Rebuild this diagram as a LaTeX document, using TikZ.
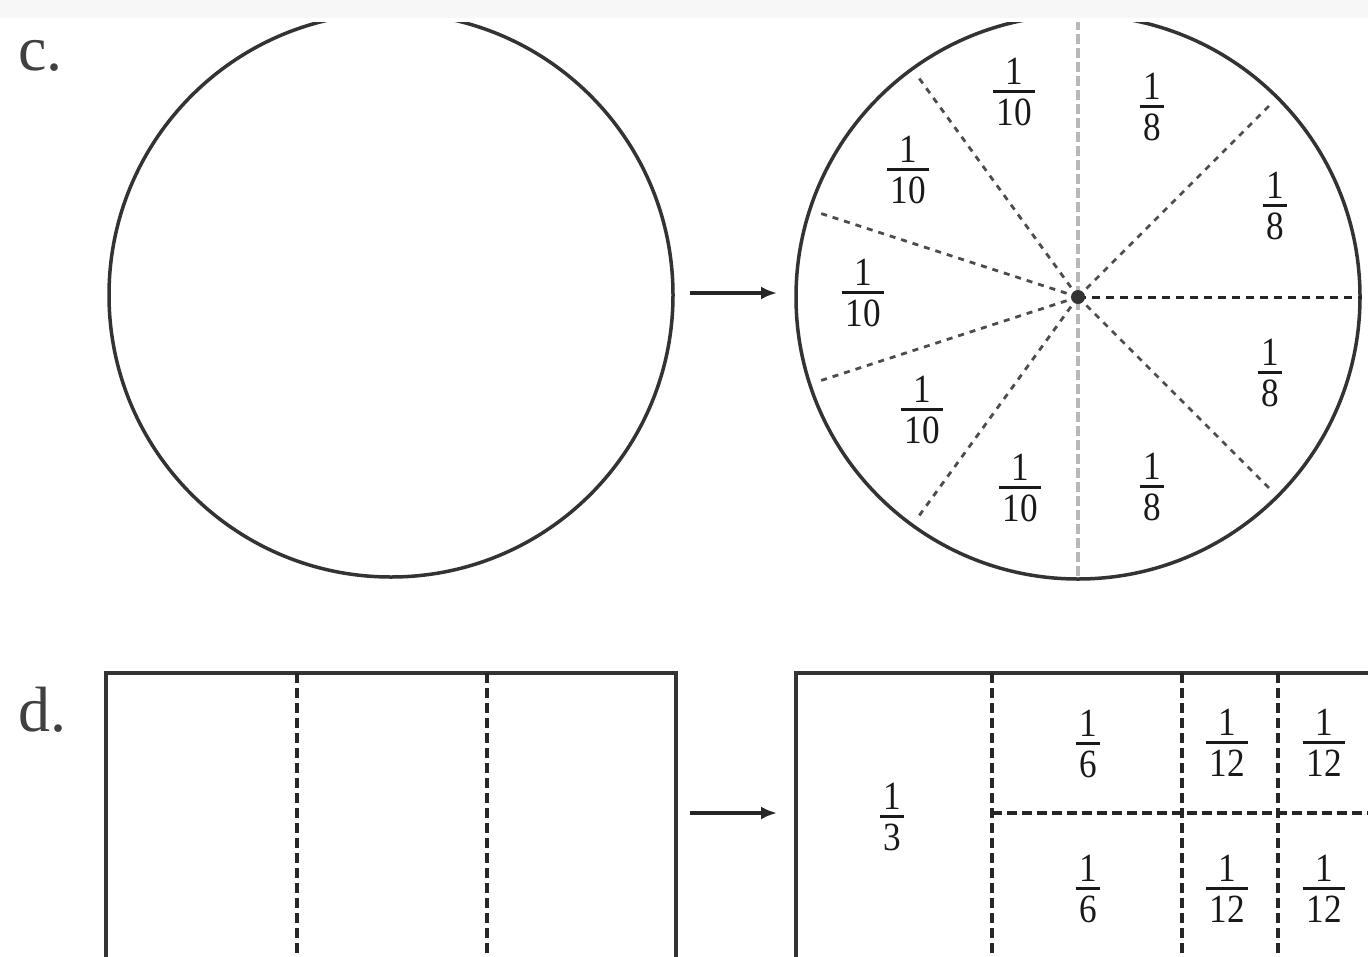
\documentclass[tikz,border=0pt]{standalone}
\usepackage{fontspec}
\setmainfont{Liberation Serif}
\usetikzlibrary{arrows.meta}
\newcommand\fr[2]{\scalebox{0.88}[1]{\vbox{\halign{\hfil\kern4pt##\kern4pt\hfil\cr #1\cr\noalign{\kern6pt\hrule height 3pt\kern6pt}#2\cr}}}}
\begin{document}
\begin{tikzpicture}[x=1pt,y=-1pt,
  frac/.style={inner sep=0pt, font=\fontsize{40}{40}\selectfont, text=black!90},
  lbl/.style={inner sep=0pt, anchor=base west, font=\fontsize{64}{64}\selectfont, text=black!75},
  outline/.style={line width=3.5pt, draw=black!80},
  cut/.style={line width=3.2pt, draw=black!85, dash pattern=on 10pt off 5pt},
  hcut/.style={line width=3pt, draw=black!85, dash pattern=on 8pt off 6pt},
  rad/.style={line width=2.8pt, draw=black!70, dash pattern=on 6pt off 6pt},
  axisline/.style={line width=4.5pt, draw=black!28, dash pattern=on 10pt off 4pt},
  arr/.style={line width=3.5pt, draw=black!85, -{Latex[length=16pt,width=13pt]}}]
\useasboundingbox (0,0) rectangle (1368,956);
\clip (0,0) rectangle (1368,956);
\fill[white] (0,0) rectangle (1368,956);
\fill[black!3] (0,0) rectangle (1368,18);

% labels
\node[lbl] (c) at (18,70) {c.};
\node[lbl] (d) at (18,731) {d.};

% circles
\begin{scope}
\clip (0,22) rectangle (1368,956);
\node[circle, outline, inner sep=0pt, minimum size=564pt] (L) at (391,295) {};
\draw[axisline] (1078,20) -- (1078,579);
\node[circle, outline, inner sep=0pt, minimum size=564pt] (R) at (1078,297) {};
\end{scope}
\coordinate (C) at (1078,297);
\draw[hcut] (C) -- (R.east);
\draw[rad] (C) -- +(-45:272);
\draw[rad] (C) -- +(45:272);
\foreach \a in {126,162,198,234} \draw[rad] (C) -- +(-\a:275);
\node[circle, fill=black!80, inner sep=0pt, minimum size=14pt] (dot) at (C) {};

\coordinate (a1) at (690,293);
\coordinate (a2) at (777,293);
\draw[arr] (a1) -- (a2);

\node[frac] (t1) at (1014,92) {\fr{1}{10}};
\node[frac] (t2) at (908,170) {\fr{1}{10}};
\node[frac] (t3) at (863,293) {\fr{1}{10}};
\node[frac] (t4) at (922,410) {\fr{1}{10}};
\node[frac] (t5) at (1020,488) {\fr{1}{10}};
\node[frac] (e1) at (1152,107) {\fr{1}{8}};
\node[frac] (e2) at (1275,206) {\fr{1}{8}};
\node[frac] (e3) at (1270,373) {\fr{1}{8}};
\node[frac] (e4) at (1152,487) {\fr{1}{8}};

% rectangles
\draw[outline] (106,980) -- (106,673) -- (676,673) -- (676,980);
\draw[cut] (297,673) -- (297,980);
\draw[cut] (487,673) -- (487,980);
\draw[outline] (796,980) -- (796,673) -- (1400,673);
\draw[cut] (992,673) -- (992,980);
\draw[cut] (1182,673) -- (1182,980);
\draw[cut] (1278,673) -- (1278,980);
\draw[cut] (992,813) -- (1400,813);

\coordinate (b1) at (690,813);
\coordinate (b2) at (777,813);
\draw[arr] (b1) -- (b2);

\node[frac] (h) at (892,817) {\fr{1}{3}};
\node[frac] (s1) at (1088,744) {\fr{1}{6}};
\node[frac] (s2) at (1088,889) {\fr{1}{6}};
\node[frac] (w1) at (1227,743) {\fr{1}{12}};
\node[frac] (w2) at (1324,743) {\fr{1}{12}};
\node[frac] (w3) at (1227,889) {\fr{1}{12}};
\node[frac] (w4) at (1324,889) {\fr{1}{12}};
\end{tikzpicture}
\end{document}
